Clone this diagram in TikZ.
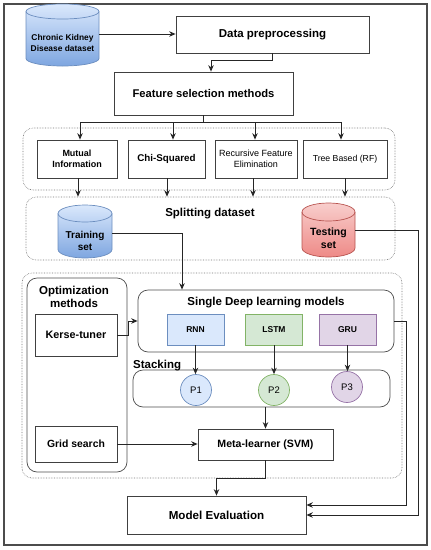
\documentclass[tikz,border=0pt]{standalone}
\usepackage{fontspec}
\setmainfont{Liberation Sans}
\usetikzlibrary{arrows.meta}

\definecolor{bluetop}{HTML}{DAE8FC}
\definecolor{bluebot}{HTML}{7EA6E0}
\definecolor{blueline}{HTML}{6C8EBF}
\definecolor{redtop}{HTML}{F8CECC}
\definecolor{redbot}{HTML}{EE8A87}
\definecolor{redline}{HTML}{B85450}
\definecolor{greenfill}{HTML}{D5E8D4}
\definecolor{greenline}{HTML}{82B366}
\definecolor{purplefill}{HTML}{E1D5E7}
\definecolor{purpleline}{HTML}{9673A6}

\newcommand{\fsz}[2]{\fontsize{#1}{#2}\selectfont}
% database cylinder: centre x, top, bottom, x radius, y radius, top colour, bottom colour, line colour
\newcommand{\dbcyl}[8]{%
  \path[top color=#6, bottom color=#7, draw=#8, line width=0.7pt]
    (#1-#4,#2+#5) -- (#1-#4,#3-#5)
    arc[start angle=180, end angle=360, x radius=#4pt, y radius=#5pt]
    -- (#1+#4,#2+#5)
    arc[start angle=0, end angle=180, x radius=#4pt, y radius=#5pt] -- cycle;
  \draw[draw=#8, line width=0.7pt] (#1+#4,#2+#5)
    arc[start angle=0, end angle=-180, x radius=#4pt, y radius=#5pt];
}

\tikzset{
    frame/.style={draw=black!70, line width=1.3pt},
    arr/.style={-{Stealth[length=6.5pt,width=5.5pt]}, line width=0.9pt, draw=black!85},
    box/.style={draw=black!75, line width=0.7pt, fill=white, align=center, inner sep=1pt},
    group/.style={draw=black!55, densely dotted, line width=0.6pt, rounded corners=10pt},
    panel/.style={draw=black!70, line width=0.7pt, rounded corners=10pt},
    dbtext/.style={align=center, inner sep=0pt, font=\bfseries\fsz{10}{12.5}},
    model/.style={draw, line width=0.7pt, minimum width=57pt, minimum height=31pt, font=\bfseries\fsz{8.5}{10}},
    pred/.style={circle, draw, line width=0.7pt, minimum size=31pt, inner sep=0pt, font=\fsz{9.5}{11}},
    title/.style={align=center, inner sep=0pt, font=\bfseries\fsz{11.5}{13}}
}

\begin{document}
\begin{tikzpicture}[x=1pt,y=-1pt]
\useasboundingbox (0,0) rectangle (431,550);

% Outer frame
\draw[frame] (4,4) rectangle (427,545);

% Dotted groups and panels
\node[group, minimum width=372pt, minimum height=62pt] (selgrp) at (209,159) {};
\node[group, minimum width=369pt, minimum height=63pt] (splitgrp) at (210.5,228.5) {};
\node[group, minimum width=380pt, minimum height=205pt] (modelgrp) at (212,375.5) {};
\node[panel, minimum width=100pt, minimum height=194pt] (optbox) at (77,375) {};
\node[panel, minimum width=256pt, minimum height=62pt] (sdl) at (266,321) {};
\node[panel, minimum width=257pt, minimum height=37pt] (stack) at (261.5,388.5) {};

% Dataset and preprocessing
\dbcyl{62.5}{4}{66}{36.5}{7.5}{bluetop}{bluebot}{blueline}
\node[dbtext, minimum width=73pt, font=\bfseries\fsz{8.4}{11.5}] (ckd) at (62.5,43) {Chronic Kidney\\Disease dataset};
\node[box, minimum width=193pt, minimum height=37pt, font=\bfseries\fsz{11.5}{13}] (prep) at (272.5,34.5) {Data preprocessing};
\node[box, minimum width=179pt, minimum height=43pt, font=\bfseries\fsz{11.2}{13}] (fsel) at (203.5,93.5) {Feature selection methods};

% Feature selection methods
\node[box, minimum width=80pt, minimum height=38pt, font=\bfseries\fsz{9}{11.5}] (mi) at (77,159) {Mutual\\Information};
\node[box, minimum width=77pt, minimum height=38pt, font=\bfseries\fsz{9.8}{12}] (chi) at (166.5,159) {Chi-Squared};
\node[box, minimum width=82pt, minimum height=38pt, font=\fsz{9}{11}] (rfe) at (256,159) {Recursive Feature\\Elimination};
\node[box, minimum width=84pt, minimum height=38pt, font=\fsz{8.7}{11}] (tree) at (345,159) {Tree Based (RF)};

% Splitting dataset
\node[title] (splittitle) at (210,214) {Splitting dataset};
\dbcyl{85}{205}{258}{27}{8.5}{bluetop}{bluebot}{blueline}
\node[dbtext, minimum width=54pt] (train) at (85,241) {Training\\set};
\dbcyl{328.5}{203}{257}{26.5}{9}{redtop}{redbot}{redline}
\node[dbtext, minimum width=53pt, font=\bfseries\fsz{10.5}{13}] (test) at (328.5,238.5) {Testing\\set};

% Optimization methods
\node[title] (opttitle) at (74,297) {Optimization\\methods};
\node[box, minimum width=82pt, minimum height=42pt, font=\bfseries\fsz{10.8}{13}] (kt) at (76,335) {Kerse-tuner};
\node[box, minimum width=82pt, minimum height=36pt, font=\bfseries\fsz{10.4}{12}] (grid) at (76,444) {Grid search};

% Single deep learning models
\node[title] (sdltitle) at (266,303) {Single Deep learning models};
\node[model, fill=bluetop, draw=blueline] (rnn) at (195.5,329.5) {RNN};
\node[model, fill=greenfill, draw=greenline] (lstm) at (274,329.5) {LSTM};
\node[model, fill=purplefill, draw=purpleline] (gru) at (347.5,329.5) {GRU};

% Stacking
\node[title, anchor=base west] (stacktitle) at (133,368) {Stacking};
\node[pred, fill=bluetop, draw=blueline] (p1) at (196,390) {P1};
\node[pred, fill=greenfill, draw=greenline] (p2) at (274,390) {P2};
\node[pred, fill=purplefill, draw=purpleline] (p3) at (347,387) {P3};
\node[box, minimum width=135pt, minimum height=31pt, font=\bfseries\fsz{10.6}{12}] (meta) at (265.5,444.5) {Meta-learner (SVM)};

% Evaluation
\node[box, minimum width=179pt, minimum height=38pt, font=\bfseries\fsz{11.6}{13}] (eval) at (216.5,515) {Model Evaluation};

% Connectors
\draw[arr] ([yshift=9pt]ckd.east) -- ([yshift=9pt]ckd.east -| prep.west);
\draw[arr] (prep.south) -- ++(0,7) -| ([xshift=7.5pt]fsel.north);
\draw[line width=0.9pt, draw=black!85] (fsel.south) -- ++(0,7) coordinate (fork);
\draw[arr] (fork) -| ([xshift=3pt]mi.north);
\draw[arr] (fork) -| ([xshift=6.5pt]chi.north);
\draw[arr] (fork) -| ([xshift=-1pt]rfe.north);
\draw[arr] (fork) -| ([xshift=-4pt]tree.north);
\draw[arr] ([xshift=1pt]mi.south) -- ([xshift=1pt]mi.south |- splitgrp.north);
\draw[arr] ([xshift=0.5pt]chi.south) -- ([xshift=0.5pt]chi.south |- splitgrp.north);
\draw[arr] ([xshift=-3pt]rfe.south) -- ([xshift=-3pt]rfe.south |- splitgrp.north);
\draw[arr] (tree.south) -- (tree.south |- splitgrp.north);
\draw[arr] ([yshift=8pt]train.east) -| ([xshift=-84pt]sdl.north);
\draw[arr] ([yshift=8.5pt]test.east) -- ++(63,0) |- (eval.east);
\draw[arr] (sdl.east) -- ++(12,0) |- ([yshift=10pt]eval.east);
\draw[arr] (kt.east) -- ++(11,0) |- (sdl.west);
\draw[arr] (rnn.south) -- (rnn.south |- p1.north);
\draw[arr] (lstm.south) -- (lstm.south |- p2.north);
\draw[arr] (gru.south) -- (gru.south |- p3.north);
\draw[arr] (meta.north |- stack.south) -- (meta.north);
\draw[arr] (grid.east) -- (grid.east -| meta.west);
\draw[arr] (meta.south) -- ++(0,18) -| (eval.north);
\end{tikzpicture}
\end{document}
